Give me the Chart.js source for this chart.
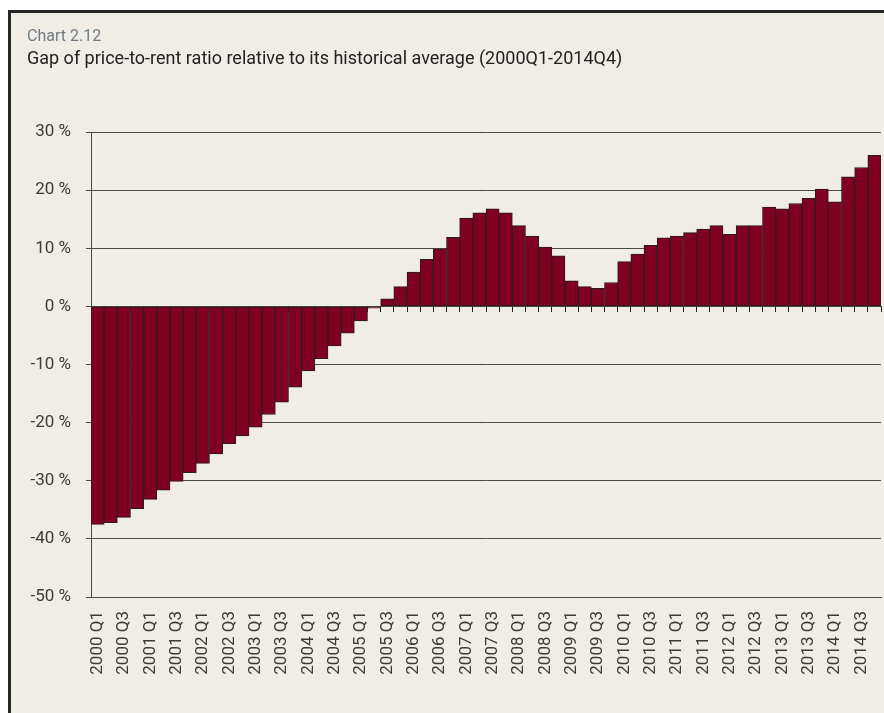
<!DOCTYPE html>
<html>
<head>
<meta charset="utf-8">
<script src="https://cdn.jsdelivr.net/npm/chart.js@4.4.0/dist/chart.umd.min.js"></script>
<style>
  html, body { margin: 0; padding: 0; background: #fff; }
  body { width: 884px; height: 713px; position: relative; overflow: hidden; font-family: Roboto, "DejaVu Sans", sans-serif; }
  .frame { position: absolute; left: 8px; top: 10px; width: 900px; height: 720px; background: #f0ede6; border-left: 3px solid #262626; border-top: 3px solid #262626; }
  .chart-no { position: absolute; left: 27px; top: 26px; font-size: 16px; color: #6e7a84; white-space: nowrap; }
  .chart-title { position: absolute; left: 27px; top: 47px; font-size: 18px; color: #222; white-space: nowrap; }
  .chart-box { position: absolute; left: 0; top: 0; width: 884px; height: 713px; }
</style>
</head>
<body>
<div class="frame"></div>
<div class="chart-box"><canvas id="gapChart"></canvas></div>
<div class="chart-no">Chart 2.12</div>
<div class="chart-title">Gap of price-to-rent ratio relative to its historical average (2000Q1-2014Q4)</div>
<script>
const quarters = [
  "2000 Q1", "2000 Q2", "2000 Q3", "2000 Q4",
  "2001 Q1", "2001 Q2", "2001 Q3", "2001 Q4",
  "2002 Q1", "2002 Q2", "2002 Q3", "2002 Q4",
  "2003 Q1", "2003 Q2", "2003 Q3", "2003 Q4",
  "2004 Q1", "2004 Q2", "2004 Q3", "2004 Q4",
  "2005 Q1", "2005 Q2", "2005 Q3", "2005 Q4",
  "2006 Q1", "2006 Q2", "2006 Q3", "2006 Q4",
  "2007 Q1", "2007 Q2", "2007 Q3", "2007 Q4",
  "2008 Q1", "2008 Q2", "2008 Q3", "2008 Q4",
  "2009 Q1", "2009 Q2", "2009 Q3", "2009 Q4",
  "2010 Q1", "2010 Q2", "2010 Q3", "2010 Q4",
  "2011 Q1", "2011 Q2", "2011 Q3", "2011 Q4",
  "2012 Q1", "2012 Q2", "2012 Q3", "2012 Q4",
  "2013 Q1", "2013 Q2", "2013 Q3", "2013 Q4",
  "2014 Q1", "2014 Q2", "2014 Q3", "2014 Q4",
];

// gap in percent
const gapValues = [
  -37.5, -37.2, -36.3, -34.8, -33.2, -31.6, -30.1, -28.6, -27.0, -25.4,
  -23.6, -22.3, -20.8, -18.6, -16.5, -13.9, -11.1, -9.0, -6.8, -4.6,
  -2.5, -0.3, 1.3, 3.4, 5.9, 8.1, 9.9, 11.9, 15.2, 16.1,
  16.8, 16.1, 13.9, 12.1, 10.2, 8.7, 4.4, 3.4, 3.1, 4.1,
  7.7, 9.0, 10.5, 11.8, 12.1, 12.7, 13.3, 13.9, 12.4, 13.9,
  13.9, 17.1, 16.8, 17.7, 18.6, 20.2, 18.0, 22.3, 23.9, 26.0,
];

const yMin = -50;
const yMax = 30;
const yStep = 10;

const axisFont = { family: "Roboto, 'DejaVu Sans', sans-serif", size: 17 };
const textColor = "#3a3a3a";
const lineColor = "#4a4a4a";

function noSidePadding(scale) {
  scale.paddingLeft = 0;
  scale.paddingRight = 0;
}

const ctx = document.getElementById("gapChart").getContext("2d");
new Chart(ctx, {
  type: "bar",
  data: {
    labels: quarters,
    datasets: [
      {
        data: gapValues,
        backgroundColor: "#800022",
        borderColor: "#2a1c1c",
        borderWidth: 1,
        borderSkipped: false,
        barPercentage: 1,
        categoryPercentage: 1,
      },
    ],
  },
  options: {
    responsive: true,
    maintainAspectRatio: false,
    animation: false,
    layout: { padding: { left: 0, top: 132, right: 3, bottom: 0 } },
    plugins: {
      legend: { display: false },
      tooltip: { enabled: false },
    },
    scales: {
      x: {
        position: "bottom",
        grid: { display: false },
        border: { display: true, color: lineColor, width: 1 },
        ticks: {
          autoSkip: false,
          minRotation: 90,
          maxRotation: 90,
          padding: 6,
          color: textColor,
          font: axisFont,
          callback: (v, i) => (i % 2 === 0 ? quarters[i] : ""),
        },
        afterFit: (scale) => {
          scale.height = 116;
          noSidePadding(scale);
        },
      },
      // tick marks along the zero line
      xZero: {
        type: "category",
        axis: "x",
        position: { y: 0 },
        grid: {
          drawOnChartArea: false,
          drawTicks: true,
          tickLength: 6,
          color: "#222",
          offset: true,
        },
        border: { display: false },
        ticks: { display: false },
        afterFit: (scale) => {
          scale.height = 0;
          noSidePadding(scale);
        },
      },
      y: {
        min: yMin,
        max: yMax,
        grid: {
          color: lineColor,
          lineWidth: 1,
          drawTicks: true,
          tickLength: 5,
        },
        border: { display: true, color: lineColor, width: 1 },
        ticks: {
          stepSize: yStep,
          padding: 15,
          color: textColor,
          font: axisFont,
          callback: (v) => v + " %",
        },
        afterFit: (scale) => {
          scale.width = 91;
        },
      },
    },
  },
});
</script>
</body>
</html>
